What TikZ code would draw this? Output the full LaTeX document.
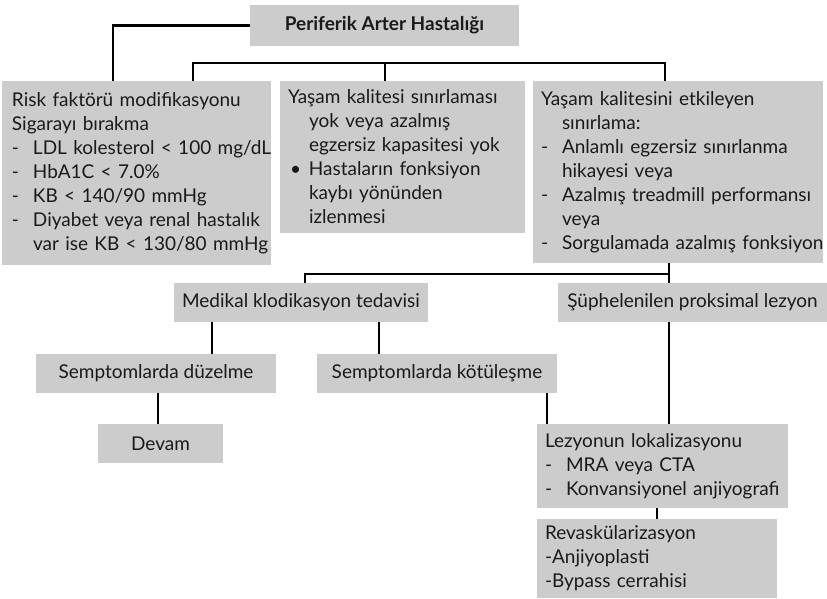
\documentclass[tikz,border=0pt]{standalone}
\usepackage{fontspec}
\setmainfont{Lato}
\definecolor{boxgray}{HTML}{CCCCCC}
\definecolor{ink}{HTML}{1A1A1A}
% one unbreakable line, optionally led by a dash, a bullet or an indent
\newcommand{\pl}[1]{\mbox{#1}}
\newcommand{\dl}[1]{\mbox{\makebox[21pt][l]{-}#1}}
\newcommand{\bl}[1]{\mbox{\makebox[21pt][l]{\hspace{2pt}\textbullet}#1}}
\newcommand{\il}[1]{\mbox{\hspace*{21pt}#1}}
\tikzset{
  base/.style={fill=boxgray, text=ink, outer sep=0pt, inner ysep=0pt,
    anchor=north west, font=\fontsize{19}{24}\selectfont},
  listbox/.style n args={2}{base, minimum width=#1pt, minimum height=#2pt,
    text width=#1pt-16pt, inner xsep=8pt, align=left},
  onebox/.style n args={2}{base, minimum width=#1pt, minimum height=#2pt,
    inner xsep=0pt, align=center},
  link/.style={draw=black, line width=2.6pt}
}
\begin{document}
\begin{tikzpicture}[x=1pt, y=-1pt]
\useasboundingbox (0,0) rectangle (827,598);

% boxes
\node[onebox={269}{41}, font=\fontsize{19}{24}\selectfont\bfseries] (title) at (250,5) {Periferik Arter Hastalığı};

\node[listbox={269}{184}, inner xsep=10pt, text width=249pt] (risk) at (2,81) {%
\pl{Risk faktörü modifikasyonu}\\
\pl{Sigarayı bırakma}\\
\dl{LDL kolesterol < 100 mg/dL}\\
\dl{HbA1C < 7.0\%}\\
\dl{KB < 140/90 mmHg}\\
\dl{Diyabet veya renal hastalık}\\
\il{var ise KB < 130/80 mmHg}};

\node[listbox={245}{152}] (yok) at (280,81) {%
\pl{Yaşam kalitesi sınırlaması}\\
\il{yok veya azalmış}\\
\il{egzersiz kapasitesi yok}\\
\bl{Hastaların fonksiyon}\\
\il{kaybı yönünden}\\
\il{izlenmesi}};

\node[listbox={290}{182}] (etk) at (533,81) {%
\pl{Yaşam kalitesini etkileyen}\\
\il{sınırlama:}\\
\dl{Anlamlı egzersiz sınırlanma}\\
\il{hikayesi veya}\\
\dl{Azalmış treadmill performansı}\\
\il{veya}\\
\dl{Sorgulamada azalmış fonksiyon}};

\node[onebox={254}{39}] (med) at (174,283) {Medikal klodikasyon tedavisi};
\node[onebox={269}{39}] (sup) at (558,283) {Şüphelenilen proksimal lezyon};
\node[onebox={240}{39}] (duz) at (36,354) {Semptomlarda düzelme};
\node[onebox={240}{39}] (kot) at (317,354) {Semptomlarda kötüleşme};
\node[onebox={125}{39}] (devam) at (98,424) {Devam};

\node[listbox={251}{84}] (lez) at (537,424) {%
\pl{Lezyonun lokalizasyonu}\\
\dl{MRA veya CTA}\\
\dl{Konvansiyonel anjiyografi}};

\node[listbox={240}{79}] (rev) at (537,519) {%
\pl{Revaskülarizasyon}\\
\pl{-Anjiyoplasti}\\
\pl{-Bypass cerrahisi}};

% connectors
\draw[link] (title.west) -| ([xshift=111pt]risk.north west);

\coordinate (barL) at (193,63);
\coordinate (barR) at (665,63);
\draw[link] ([xshift=191pt]risk.north west) -- (barL) -- (barR) -- ([xshift=132pt]etk.north west);
\draw[link] ([xshift=105pt]yok.north west) -- ([xshift=105pt]yok.north west |- barL);

\coordinate (bar2) at (669,274);
\draw[link] ([xshift=136pt]etk.south west) -- ([xshift=111pt]sup.north west);
\draw[link] ([xshift=131pt]med.north west) |- (bar2);

\draw[link] ([xshift=38pt]med.south west) -- ([xshift=176pt]duz.north west);
\draw[link] ([xshift=205pt]med.south west) -- ([xshift=62pt]kot.north west);
\draw[link] ([xshift=122pt]duz.south west) -- ([xshift=60pt]devam.north west);
\draw[link] ([xshift=230pt]kot.south west) -- ([xshift=10pt]lez.north west);
\draw[link] ([xshift=111pt]sup.south west) -- ([xshift=132pt]lez.north west);
\draw[link] ([xshift=120pt]lez.south west) -- ([xshift=120pt]rev.north west);
\end{tikzpicture}
\end{document}
